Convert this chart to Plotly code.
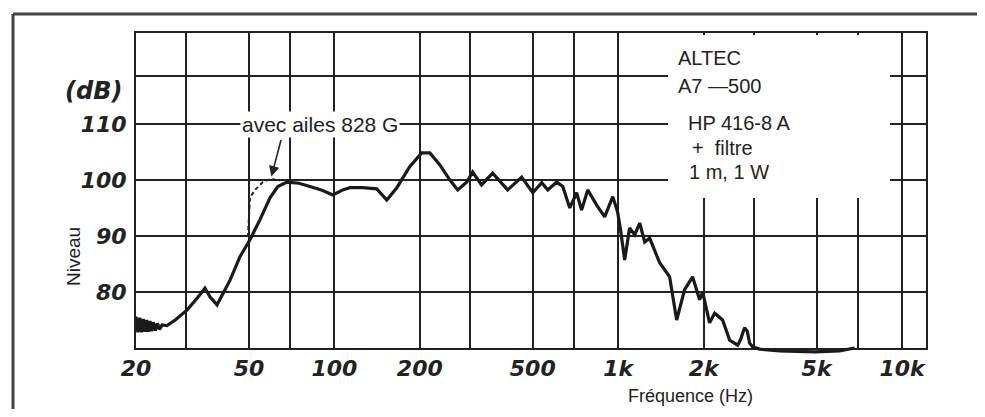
import numpy as np
import plotly.graph_objects as go

# ---- data ----
freq_main = [20, 20.3, 20.6, 20.9, 21.2, 21.5, 21.8, 22.1, 22.4, 22.7, 23.0, 23.4, 23.8, 24.2, 24.7,
             25.7, 27.5, 30.3, 33, 35, 36.5, 38.6,
             42.9, 46.5, 50.4, 54.7, 59.3, 63.2, 68, 75, 82, 90, 98.8, 107, 113.5, 126, 141, 153,
             166, 184, 203, 217, 235, 255, 272, 293, 307, 330, 361, 408, 457, 500, 538, 565, 607,
             638, 675, 714, 743, 781, 840, 896, 957, 995, 1020, 1054, 1097, 1143, 1191, 1240, 1291,
             1400, 1518, 1607, 1714, 1829, 1936, 1984, 2099, 2188, 2333, 2470, 2636, 2700, 2787,
             2850, 2904, 2978, 3148, 3707, 4920, 6026, 6808]
level_main = [75.6, 72.8, 75.4, 72.8, 75.2, 72.9, 75.0, 72.9, 74.8, 73.0, 74.6, 73.1, 74.4, 73.3, 74.1,
              74.0, 75.0, 76.8, 79.0, 80.7, 79.1, 77.7,
              82.1, 86.3, 89.3, 92.9, 96.8, 98.8, 99.6, 99.4, 98.8, 98.2, 97.3, 98.2, 98.6, 98.6, 98.4, 96.4,
              98.6, 102.3, 104.8, 104.8, 102.7, 100.0, 98.2, 99.6, 101.4, 99.1, 101.2, 98.2, 100.5, 97.7, 99.5, 98.2, 99.6,
              98.8, 95.0, 97.7, 94.6, 98.2, 95.5, 93.4, 97.0, 94.3, 91.0, 85.7, 91.4, 90.2, 92.3, 88.9, 89.6,
              85.2, 82.7, 75.0, 80.4, 82.7, 78.6, 80.0, 74.5, 76.2, 75.0, 71.4, 70.5, 71.5, 73.6,
              73.0, 70.9, 70.2, 69.8, 69.5, 69.3, 69.5, 70.0]

freq_ailes = [49.6, 50.4, 52.5, 56, 60, 64]
level_ailes = [89.8, 96.8, 98.2, 99.6, 100.2, 99.8]

x_grid = [20, 30, 50, 70, 100, 200, 300, 500, 700, 1000, 2000, 3000, 5000, 7000, 10000]
x_labels = ["20", "", "50", "", "100", "200", "", "500", "", "1k", "2k", "", "5k", "", "10k"]
y_grid = [80, 90, 100, 110, 118.6]
y_labels = ["80", "90", "100", "110", ""]

note_lines = ["ALTEC", "A7 \u2014500", "HP 416-8 A", "+  filtre", "1 m, 1 W"]

# ---- geometry (page body has an 8px margin, so the figure is offset by 8px) ----
OFF = 8
W, H = 985 - 2 * OFF, 417 - 2 * OFF
ML, MT = 136 - OFF, 33 - OFF
MR = W - (926 - OFF)
MB = H - (358 - OFF)
PW, PH = W - ML - MR, H - MT - MB
EXTRA = 10  # px of room below the main axis for the curve that dips below it
Y0, Y1 = 70, 126.2
pxdb = (PH - EXTRA) / (Y1 - Y0)
XR = [np.log10(20), np.log10(12150)]

INK = "#222222"
tick_font = dict(family="DejaVu Sans", size=22, color=INK, weight="bold", style="italic")

fig = go.Figure()
fig.add_trace(go.Scatter(x=freq_ailes, y=level_ailes, mode="lines", xaxis="x2", yaxis="y2",
                         line=dict(color=INK, width=2, dash="4px,3px"), hoverinfo="skip"))
fig.add_trace(go.Scatter(x=freq_main, y=level_main, mode="lines", xaxis="x2", yaxis="y2",
                         line=dict(color="#1a1a1a", width=3.2), hoverinfo="skip"))


def px2paper_x(px):
    return (px - OFF - ML) / PW


def px2paper_y(py):
    return (H - MB - (py - OFF)) / PH


shapes = [
    # white box under the legend text
    dict(type="rect", xref="paper", yref="paper", x0=px2paper_x(668), x1=px2paper_x(890),
         y0=px2paper_y(198), y1=px2paper_y(35), fillcolor="white", line=dict(width=0), layer="above"),
    # outer frame of the scan
    dict(type="line", xref="paper", yref="paper", x0=px2paper_x(13), x1=px2paper_x(990),
         y0=px2paper_y(14), y1=px2paper_y(14), line=dict(color="#444", width=3)),
    dict(type="line", xref="paper", yref="paper", x0=px2paper_x(13), x1=px2paper_x(13),
         y0=px2paper_y(14), y1=px2paper_y(420), line=dict(color="#444", width=3)),
]

txt_font = dict(family="Liberation Sans, Arial", size=20, color=INK)
annotations = [
    dict(text="avec ailes 828 G", xref="x", yref="y", x=np.log10(89), y=109.8, showarrow=False,
         font=dict(family="Liberation Sans, Arial", size=21, color=INK), bgcolor="white", borderpad=1,
         yanchor="middle"),
    dict(text="", xref="x", yref="y", x=np.log10(60), y=100.6, ax=10, ay=-38, showarrow=True,
         arrowhead=2, arrowsize=1.3, arrowwidth=1.6, arrowcolor=INK),
    dict(text="(dB)", xref="paper", yref="paper", x=px2paper_x(124), y=px2paper_y(91),
         xanchor="right", yanchor="middle", showarrow=False,
         font=dict(family="DejaVu Sans", size=24, color=INK, weight="bold", style="italic")),
    dict(text="Niveau", xref="paper", yref="paper", x=px2paper_x(73), y=px2paper_y(257),
         textangle=-90, xanchor="center", yanchor="middle", showarrow=False,
         font=dict(family="Liberation Sans, Arial", size=19, color=INK)),
    dict(text="Fr\u00e9quence (Hz)", xref="paper", yref="paper", x=px2paper_x(690), y=px2paper_y(396),
         xanchor="center", yanchor="middle", showarrow=False,
         font=dict(family="Liberation Sans, Arial", size=18, color=INK)),
]
note_pos = [(676, 58), (676, 86), (686, 123), (690, 148), (687, 172)]
for t, (px, py) in zip(note_lines, note_pos):
    annotations.append(dict(text=t, xref="paper", yref="paper", x=px2paper_x(px), y=px2paper_y(py),
                            xanchor="left", yanchor="middle", showarrow=False, font=txt_font))

fig.update_layout(
    width=W, height=H, margin=dict(l=ML, r=MR, t=MT, b=MB),
    paper_bgcolor="white", plot_bgcolor="rgba(0,0,0,0)", showlegend=False,
    xaxis=dict(type="log", range=XR, domain=[0, 1], anchor="y",
               tickvals=x_grid, ticktext=x_labels, ticks="", tickfont=tick_font,
               showgrid=True, gridcolor=INK, gridwidth=1.8,
               showline=True, mirror=True, linecolor=INK, linewidth=2, zeroline=False),
    yaxis=dict(range=[Y0, Y1], domain=[EXTRA / PH, 1], anchor="x",
               tickvals=y_grid, ticktext=y_labels, ticks="", tickfont=tick_font,
               ticklabelstandoff=3,
               showgrid=True, gridcolor=INK, gridwidth=1.8,
               showline=True, mirror=True, linecolor=INK, linewidth=2, zeroline=False),
    xaxis2=dict(type="log", range=XR, domain=[0, 1], anchor="y2", visible=False),
    yaxis2=dict(range=[Y0 - EXTRA / pxdb, Y1], domain=[0, 1], anchor="x2", visible=False),
    shapes=shapes, annotations=annotations,
)

fig.write_html("out.html")
